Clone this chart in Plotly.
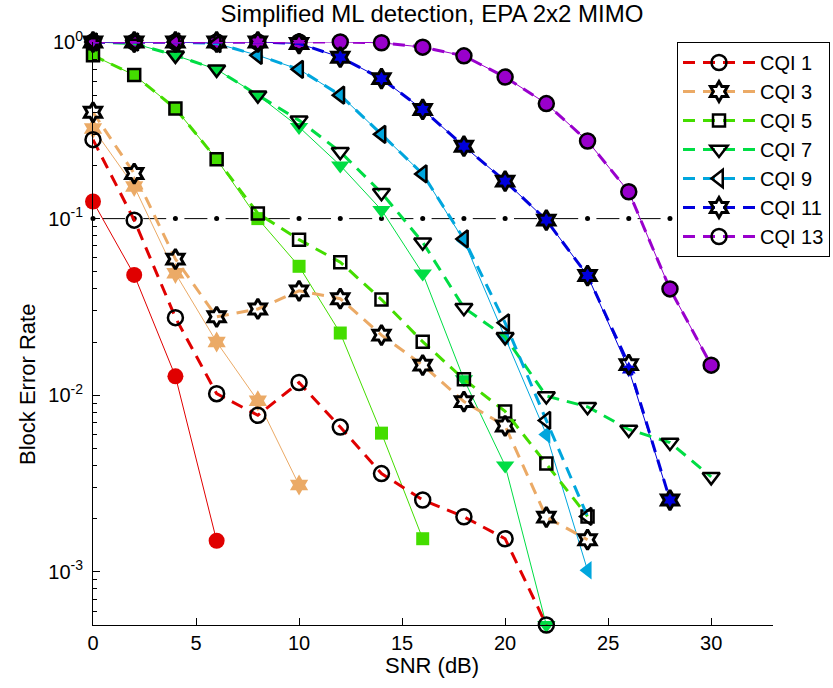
import plotly.graph_objects as go

# SNR grid (dB)
snr = [0, 2, 4, 6, 8, 10, 12, 14, 16, 18, 20, 22, 24, 26, 28, 30]

# Block error rate, full ML detection (dashed lines, open markers)
bler_cqi1 = [0.28, 0.098, 0.0275, 0.0102, 0.0077, 0.0118, 0.0066, 0.0036, 0.00255, 0.00205, 0.00154, 0.0005]
bler_cqi3 = [0.40, 0.18, 0.059, 0.0278, 0.0308, 0.039, 0.0352, 0.0219, 0.0148, 0.0092, 0.0067, 0.00204, 0.00152]
bler_cqi5 = [0.84, 0.65, 0.42, 0.217, 0.107, 0.076, 0.0567, 0.0348, 0.0201, 0.0123, 0.0081, 0.0041, 0.00206]
bler_cqi7 = [1.0, 0.98, 0.84, 0.70, 0.50, 0.36, 0.239, 0.140, 0.0735, 0.0313, 0.0214, 0.0099, 0.0086, 0.0064, 0.0054, 0.00345]
bler_cqi9 = [1.0, 1.0, 1.0, 0.98, 0.84, 0.70, 0.50, 0.30, 0.179, 0.0767, 0.0257, 0.0072, 0.00206]
bler_cqi11 = [1.0, 1.0, 1.0, 1.0, 1.0, 0.98, 0.82, 0.62, 0.415, 0.257, 0.163, 0.098, 0.0476, 0.0149, 0.00255]
bler_cqi13 = [1.0, 1.0, 1.0, 1.0, 1.0, 1.0, 1.0, 0.99, 0.935, 0.835, 0.633, 0.448, 0.275, 0.142, 0.040, 0.0148]

# Block error rate, simplified ML detection (thin solid lines, filled markers)
simp_cqi1 = [0.125, 0.048, 0.0128, 0.0015]
simp_cqi3 = [0.324, 0.152, 0.049, 0.020, 0.0093, 0.0031]
simp_cqi5 = [0.84, 0.65, 0.42, 0.217, 0.100, 0.0537, 0.0225, 0.0061, 0.00154]
simp_cqi7 = [1.0, 0.98, 0.84, 0.70, 0.50, 0.33, 0.20, 0.112, 0.0489, 0.0123, 0.0040, 0.0005]
simp_cqi9 = [1.0, 1.0, 1.0, 0.98, 0.84, 0.70, 0.50, 0.30, 0.179, 0.075, 0.0214, 0.006, 0.00102]
simp_cqi11 = [1.0, 1.0, 1.0, 1.0, 1.0, 0.98, 0.82, 0.62, 0.415, 0.257, 0.163, 0.098, 0.0476, 0.014, 0.00255]
simp_cqi13 = [1.0, 1.0, 1.0, 1.0, 1.0, 1.0, 1.0, 0.99, 0.935, 0.835, 0.633, 0.448, 0.275, 0.142, 0.040, 0.0148]

# 10 % target BLER reference line
target_snr = [0, 2, 4, 6, 8, 10, 12, 14, 16, 18, 20, 22, 24, 26, 28]
target_bler = [0.1] * len(target_snr)

names = ["CQI 1", "CQI 3", "CQI 5", "CQI 7", "CQI 9", "CQI 11", "CQI 13"]
colors = ["#e00000", "#ebaa66", "#44dd00", "#00dd44", "#00a6dd", "#0000dd", "#9900cc"]
full = [bler_cqi1, bler_cqi3, bler_cqi5, bler_cqi7, bler_cqi9, bler_cqi11, bler_cqi13]
simp = [simp_cqi1, simp_cqi3, simp_cqi5, simp_cqi7, simp_cqi9, simp_cqi11, simp_cqi13]
symbols = ["circle", "hexagram", "square", "triangle-down", "triangle-left", "hexagram", "circle"]
open_sizes = [15, 15, 12, 15, 15, 15, 15]
open_widths = [2.5, 3, 2.5, 2.5, 2.5, 3, 2.5]
fill_sizes = [16, 16, 13, 16, 16, 12, 15]

FONT = "Liberation Sans, Arial, Helvetica, sans-serif"

fig = go.Figure()

fig.add_trace(go.Scatter(
    x=target_snr, y=target_bler, mode="lines+markers",
    line=dict(color="black", width=1, dash="0px,9px,23px,9.2px"),
    marker=dict(color="black", size=5, symbol="circle"),
    showlegend=False, hoverinfo="skip", cliponaxis=False,
))

# Simplified detector curves underneath
for name, col, ys, sym, sz in zip(names, colors, simp, symbols, fill_sizes):
    fig.add_trace(go.Scatter(
        x=snr[:len(ys)], y=ys, mode="lines+markers", name=name + " (simplified)",
        line=dict(color=col, width=1),
        marker=dict(symbol=sym, size=sz, color=col, line=dict(width=0)),
        showlegend=False, cliponaxis=False,
    ))

# Full ML curves on top
for name, col, ys, sym, sz, lw in zip(names, colors, full, symbols, open_sizes, open_widths):
    fig.add_trace(go.Scatter(
        x=snr[:len(ys)], y=ys, mode="lines+markers", name=name,
        line=dict(color=col, width=3, dash="12px,8px"),
        marker=dict(symbol=sym + "-open", size=sz, color="black", line=dict(width=lw, color="black")),
        cliponaxis=False,
    ))

plot_w, plot_h = 680, 583

fig.update_layout(
    width=833, height=688,
    margin=dict(l=93, r=60, t=42, b=63, autoexpand=False),
    plot_bgcolor="white", paper_bgcolor="white",
    font=dict(family=FONT, size=19, color="black"),
    title=dict(text="Simplified ML detection, EPA 2x2 MIMO", x=432 / 833, xanchor="center",
               y=1 - 14 / 688, yanchor="middle", yref="container",
               font=dict(size=24, family=FONT, color="black")),
    showlegend=True,
    legend=dict(x=(677 - 93) / plot_w, y=1.0, xanchor="left", yanchor="top",
                bgcolor="white", bordercolor="black", borderwidth=1,
                font=dict(size=20, family=FONT), itemwidth=72, tracegroupgap=0),
    xaxis=dict(range=[0, 33], showgrid=False, zeroline=False,
               showline=True, linecolor="black", linewidth=1,
               ticks="inside", ticklen=7, tickcolor="black",
               tickvals=[0, 5, 10, 15, 20, 25, 30], ticklabelstandoff=0,
               tickfont=dict(size=20)),
    yaxis=dict(type="log", range=[-3.30103, 0], showgrid=False, zeroline=False,
               showline=True, linecolor="black", linewidth=1,
               ticks="inside", ticklen=7, tickcolor="black",
               tickvals=[1e-3, 1e-2, 1e-1, 1],
               ticktext=["10<sup>-3</sup>", "10<sup>-2</sup>", "10<sup>-1</sup>", "10<sup>0</sup>"],
               ticklabelstandoff=5, tickfont=dict(size=20),
               minor=dict(ticks="inside", ticklen=4, tickcolor="black",
                          tickvals=[k * 10 ** d for d in (-4, -3, -2, -1) for k in range(2, 10)
                                    if 5e-4 <= k * 10 ** d < 1])),
    annotations=[
        dict(text="SNR (dB)", xref="paper", yref="paper",
             x=(432 - 93) / plot_w, y=(625 - 665) / plot_h,
             xanchor="center", yanchor="middle", showarrow=False,
             font=dict(size=22, family=FONT)),
        dict(text="Block Error Rate", textangle=-90, xref="paper", yref="paper",
             x=(28 - 93) / plot_w, y=(625 - 385) / plot_h,
             xanchor="center", yanchor="middle", showarrow=False,
             font=dict(size=22, family=FONT)),
    ],
)

fig.write_html("out.html")
